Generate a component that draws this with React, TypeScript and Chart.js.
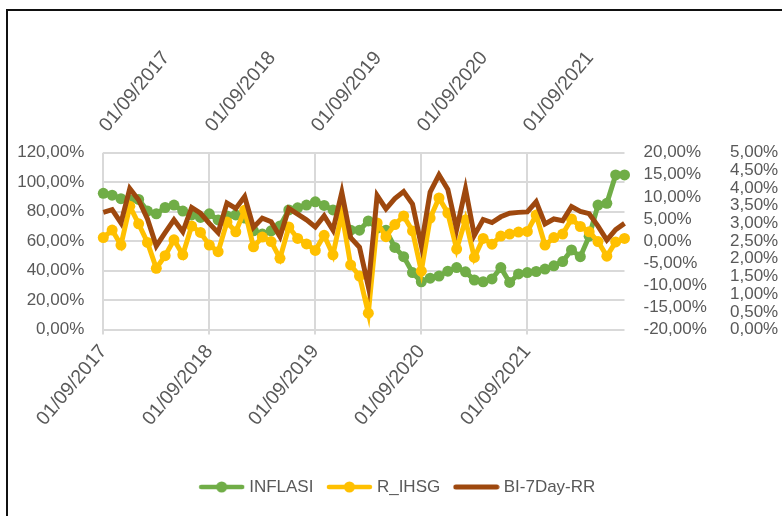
import React, { useEffect, useRef } from "react";
import { Chart, registerables } from "chart.js";

Chart.register(...registerables);

const months: string[] = [
  "01/09/2017", "01/10/2017", "01/11/2017", "01/12/2017",
  "01/01/2018", "01/02/2018", "01/03/2018", "01/04/2018", "01/05/2018", "01/06/2018",
  "01/07/2018", "01/08/2018", "01/09/2018", "01/10/2018", "01/11/2018", "01/12/2018",
  "01/01/2019", "01/02/2019", "01/03/2019", "01/04/2019", "01/05/2019", "01/06/2019",
  "01/07/2019", "01/08/2019", "01/09/2019", "01/10/2019", "01/11/2019", "01/12/2019",
  "01/01/2020", "01/02/2020", "01/03/2020", "01/04/2020", "01/05/2020", "01/06/2020",
  "01/07/2020", "01/08/2020", "01/09/2020", "01/10/2020", "01/11/2020", "01/12/2020",
  "01/01/2021", "01/02/2021", "01/03/2021", "01/04/2021", "01/05/2021", "01/06/2021",
  "01/07/2021", "01/08/2021", "01/09/2021", "01/10/2021", "01/11/2021", "01/12/2021",
  "01/01/2022", "01/02/2022", "01/03/2022", "01/04/2022", "01/05/2022", "01/06/2022",
  "01/07/2022", "01/08/2022",
];

const shownDateLabels: string[] = ["01/09/2017", "01/09/2018", "01/09/2019", "01/09/2020", "01/09/2021"];

// INFLASI (right-most axis, 0% - 5%)
const inflasi: number[] = [
  3.85, 3.8, 3.7, 3.66, 3.68, 3.35, 3.27, 3.45, 3.52, 3.35,
  3.24, 3.17, 3.27, 3.1, 3.21, 3.24, 3.15, 2.79, 2.7, 2.79,
  2.93, 3.38, 3.44, 3.52, 3.61, 3.51, 3.38, 3.18, 2.81, 2.81,
  3.07, 2.87, 2.81, 2.32, 2.06, 1.61, 1.35, 1.45, 1.51, 1.65,
  1.75, 1.63, 1.4, 1.35, 1.43, 1.75, 1.33, 1.57, 1.61, 1.64,
  1.71, 1.8, 1.92, 2.25, 2.06, 2.64, 3.52, 3.57, 4.37, 4.37,
];

// R_IHSG (middle right axis, -20% - 20%)
const rIhsg: number[] = [
  0.8, 2.5, -0.9, 7.9, 3.9, -0.3, -6.15, -3.3, 0.3, -3.1,
  3.4, 1.95, -0.9, -2.4, 4.3, 2.1, 7.0, -1.3, 0.9, -0.1,
  -3.9, 3.2, 0.6, -0.65, -2.1, 1.3, -3.1, 6.35, -5.4, -7.9,
  -16.3, 4.1, 1.0, 3.75, 5.7, 2.3, -6.8, 5.2, 9.75, 6.35,
  -1.8, 4.8, -3.7, 0.6, -0.7, 1.15, 1.6, 2.05, 2.2, 5.9,
  -0.9, 0.8, 1.6, 5.0, 3.3, 2.1, -0.1, -3.4, -0.2, 0.6,
];

// BI-7Day-RR (middle right axis, -20% - 20%)
const bi7DayRR: number[] = [
  6.5, 7.1, 4.1, 11.9, 9.3, 5.0, -1.1, 1.9, 4.8, 2.1,
  7.6, 6.3, 4.0, 1.9, 8.6, 7.4, 10.1, 3.1, 5.2, 4.4,
  1.0, 7.4, 6.1, 4.8, 3.2, 5.7, 2.5, 11.0, 0.8, -1.4,
  -10.3, 10.3, 7.3, 9.6, 11.2, 8.4, -1.0, 11.1, 15.0, 11.7,
  2.7, 11.8, 1.3, 4.9, 4.2, 5.5, 6.3, 6.5, 6.6, 8.9,
  3.9, 5.0, 4.6, 7.8, 6.7, 6.2, 3.4, 0.25, 2.6, 4.0,
];

const leftTicks = { min: 0, max: 120, step: 20 };
const midTicks = { min: -20, max: 20, step: 5 };
const rightTicks = { min: 0, max: 5, step: 0.5 };

const FONT = "'Liberation Sans', Arial, sans-serif";
const GRAY = "#595959";
const GRID = "#d9d9d9";
const GREEN = "#70AD47";
const YELLOW = "#FFC000";
const BROWN = "#9E480E";

const fmt = (v: number) => Number(v).toFixed(2).replace(".", ",") + "%";
const isShown = (i: number) => shownDateLabels.includes(months[i]);

function legendIcon(color: string, marker: boolean, lw: number): HTMLCanvasElement {
  const c = document.createElement("canvas");
  c.width = 47;
  c.height = 14;
  const g = c.getContext("2d")!;
  g.strokeStyle = color;
  g.lineWidth = lw;
  g.lineCap = "round";
  g.beginPath();
  g.moveTo(3, 7);
  g.lineTo(44, 7);
  g.stroke();
  if (marker) {
    g.fillStyle = color;
    g.beginPath();
    g.arc(23.5, 7, 5.5, 0, Math.PI * 2);
    g.fill();
  }
  return c;
}

export default function App() {
  const ref = useRef<HTMLCanvasElement | null>(null);

  useEffect(() => {
    if (!ref.current) return;
    const icons = [
      legendIcon(GREEN, true, 4.5),
      legendIcon(YELLOW, true, 4.5),
      legendIcon(BROWN, false, 5),
    ];
    const xTicks = (pad: number, offset: number) => ({
      autoSkip: false,
      minRotation: 50,
      maxRotation: 50,
      padding: pad,
      labelOffset: offset,
      color: GRAY,
      font: { family: FONT, size: 19.5 },
      callback: (_v: any, i: number) => (isShown(i) ? months[i] : ""),
    });
    const chart = new Chart(ref.current, {
      type: "line",
      data: {
        labels: months,
        datasets: [
          {
            label: "INFLASI",
            data: inflasi,
            yAxisID: "y3",
            borderColor: GREEN,
            backgroundColor: GREEN,
            pointBackgroundColor: GREEN,
            pointBorderWidth: 0,
            pointRadius: 5.5,
            borderWidth: 5,
            tension: 0,
            order: 2,
            clip: false,
          },
          {
            label: "R_IHSG",
            data: rIhsg,
            yAxisID: "y2",
            borderColor: YELLOW,
            backgroundColor: YELLOW,
            pointBackgroundColor: YELLOW,
            pointBorderWidth: 0,
            pointRadius: 5.5,
            borderWidth: 5,
            tension: 0,
            order: 1,
            clip: false,
          },
          {
            label: "BI-7Day-RR",
            data: bi7DayRR,
            yAxisID: "y2",
            borderColor: BROWN,
            backgroundColor: BROWN,
            pointRadius: 0,
            borderWidth: 5,
            tension: 0,
            order: 0,
            clip: false,
          },
        ] as any,
      },
      options: {
        responsive: false,
        maintainAspectRatio: false,
        animation: false,
        devicePixelRatio: 1,
        layout: { padding: { left: 16, right: 0, top: 20, bottom: 10.5 } },
        plugins: {
          tooltip: { enabled: false },
          legend: {
            position: "bottom",
            labels: {
              usePointStyle: true,
              pointStyleWidth: 38,
              padding: 17,
              color: GRAY,
              font: { family: FONT, size: 17 },
              generateLabels: () =>
                ["INFLASI", "R_IHSG", "BI-7Day-RR"].map((t, k) => ({
                  text: t,
                  pointStyle: icons[k],
                  fillStyle: [GREEN, YELLOW, BROWN][k],
                  strokeStyle: [GREEN, YELLOW, BROWN][k],
                  lineWidth: 0,
                  hidden: false,
                  datasetIndex: k,
                  fontColor: GRAY,
                })) as any,
            },
          },
        },
        scales: {
          x: {
            type: "category",
            position: "bottom",
            offset: false,
            border: { display: false },
            grid: {
              color: (c: any) => (isShown(c.index) ? GRID : "rgba(0,0,0,0)"),
              lineWidth: 2,
              drawTicks: true,
              tickLength: 5,
            },
            ticks: xTicks(6, 0) as any,
            afterFit: (s: any) => {
              s.height = 132;
            },
          },
          xTop: {
            type: "category",
            position: "top",
            offset: false,
            border: { display: false },
            grid: { display: false },
            ticks: xTicks(8, 18) as any,
            afterFit: (s: any) => {
              s.height = 132.7;
            },
          },
          y: {
            position: "left",
            min: leftTicks.min,
            max: leftTicks.max,
            border: { display: false },
            grid: { color: GRID, lineWidth: 2, drawTicks: false },
            ticks: {
              stepSize: leftTicks.step,
              autoSkip: false,
              padding: 19,
              color: GRAY,
              font: { family: FONT, size: 17 },
              callback: (v: any) => fmt(v),
            },
            afterFit: (s: any) => {
              s.width = 87.3;
            },
          },
          y2: {
            position: "right",
            weight: 1,
            min: midTicks.min,
            max: midTicks.max,
            border: { display: false },
            grid: { display: false, drawTicks: false },
            ticks: {
              stepSize: midTicks.step,
              autoSkip: false,
              padding: 19,
              color: GRAY,
              font: { family: FONT, size: 17 },
              callback: (v: any) => fmt(v),
            },
            afterFit: (s: any) => {
              s.width = 100;
            },
          },
          y3: {
            position: "right",
            weight: 2,
            min: rightTicks.min,
            max: rightTicks.max,
            border: { display: false },
            grid: { display: false, drawTicks: false },
            ticks: {
              stepSize: rightTicks.step,
              autoSkip: false,
              padding: 5.5,
              color: GRAY,
              font: { family: FONT, size: 17 },
              callback: (v: any) => fmt(v),
            },
            afterFit: (s: any) => {
              s.width = 57.5;
            },
          },
        },
      } as any,
    });
    return () => chart.destroy();
  }, []);

  return (
    <div style={{ position: "absolute", left: 0, top: 0, width: 782, height: 516, background: "#fff", overflow: "hidden" }}>
      <canvas ref={ref} width={782} height={516} style={{ position: "absolute", left: 0, top: 0, width: 782, height: 516 }} />
      <div
        style={{
          position: "absolute",
          left: 6,
          top: 9,
          width: 776,
          height: 507,
          boxSizing: "border-box",
          borderTop: "2px solid #111",
          borderLeft: "2px solid #111",
          pointerEvents: "none",
        }}
      />
    </div>
  );
}
